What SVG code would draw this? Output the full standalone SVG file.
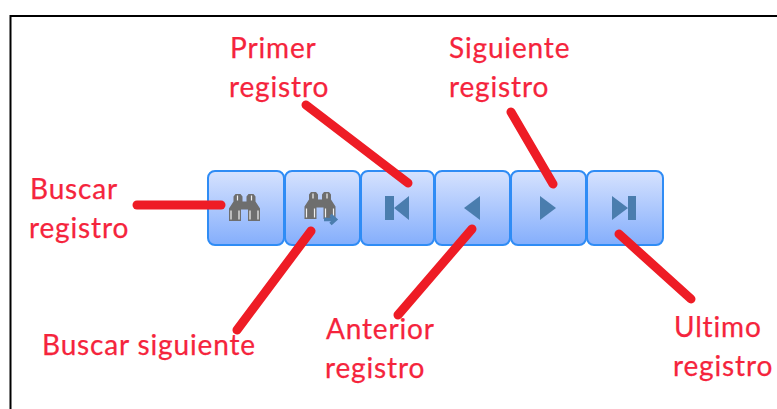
<svg xmlns="http://www.w3.org/2000/svg" width="777" height="409" viewBox="0 0 777 409">
<style>
text{font-family:"Lato","Open Sans","Liberation Sans",sans-serif;font-size:28px;letter-spacing:.85px;fill:#f5243c;stroke:#f5243c;stroke-width:.25}
.btn{fill:url(#g);stroke:#2f8cf5;stroke-width:2}
.ic{fill:#4a7dae}
.bin{fill:#6e6e6e}
.bl{fill:none;stroke:#ee1c25;stroke-width:9;stroke-linecap:round;stroke-linejoin:round}
</style>
<defs>
<linearGradient id="g" x1="0" y1="0" x2="0" y2="1"><stop offset="0" stop-color="#d6e2fe"/><stop offset="1" stop-color="#84aefc"/></linearGradient>
<g id="binoc"><path class="bin" d="M-15.500 13.500V1L-11-6V-11L-9-13.500H-4L-2-11V-6H2V-11L4-13.500H9L11-11V-6L15.500 1V13.500H3.500V2H-3.500V13.500Z"/><path d="M-13.500 3V12M-5.500 3V12M5.500 3V12M13.500 3V12M-7-12V-7M7-12V-7" stroke="#f0f0f0" stroke-width="1.200"/></g>
</defs>
<rect width="777" height="409" fill="#fff"/>
<path d="M10.500 409V16H777" fill="none" stroke="#000" stroke-width="2"/>
<g id="btn-buscar"><rect class="btn" x="208" y="171" width="76" height="74" rx="7"/><use href="#binoc" x="244.500" y="207.500"/></g>
<g id="btn-siguiente-busqueda"><rect class="btn" x="285" y="171" width="75" height="74" rx="7"/><use href="#binoc" x="320" y="205.500"/><path d="M324 219.500H335M330.500 215L335.500 219.500L330.500 224" fill="none" stroke="#4a7dae" stroke-width="3.500"/></g>
<g id="btn-primero"><rect class="btn" x="361" y="171" width="73" height="74" rx="7"/><path class="ic" d="M385 196H394V220H385ZM409 196V220L394 208Z"/></g>
<g id="btn-anterior"><rect class="btn" x="435" y="171" width="75" height="74" rx="7"/><path class="ic" d="M480 196V220L464 208Z"/></g>
<g id="btn-siguiente"><rect class="btn" x="511" y="171" width="75" height="74" rx="7"/><path class="ic" d="M540 196V220L556 208Z"/></g>
<g id="btn-ultimo"><rect class="btn" x="587" y="171" width="76" height="74" rx="7"/><path class="ic" d="M612 196L628 208L612 220ZM628 196H636V220H628Z"/></g>
<g id="connectors">
<path class="bl" d="M137 205H221"/>
<path class="bl" d="M237 330L311 231"/>
<path class="bl" d="M306 105L408 183"/>
<path class="bl" d="M398 315L472 229"/>
<path class="bl" d="M511 112L553 184"/>
<path class="bl" d="M619 234L691 299"/>
</g>
<g id="labels">
<text x="30" y="199">Buscar</text><text x="29" y="238">registro</text>
<text x="230" y="58">Primer</text><text x="229" y="97">registro</text>
<text x="449" y="58">Siguiente</text><text x="449" y="97">registro</text>
<text x="42" y="355">Buscar siguiente</text>
<text x="326" y="339">Anterior</text><text x="325" y="378">registro</text>
<text x="674" y="337">Ultimo</text><text x="673" y="376">registro</text>
</g>
</svg>
